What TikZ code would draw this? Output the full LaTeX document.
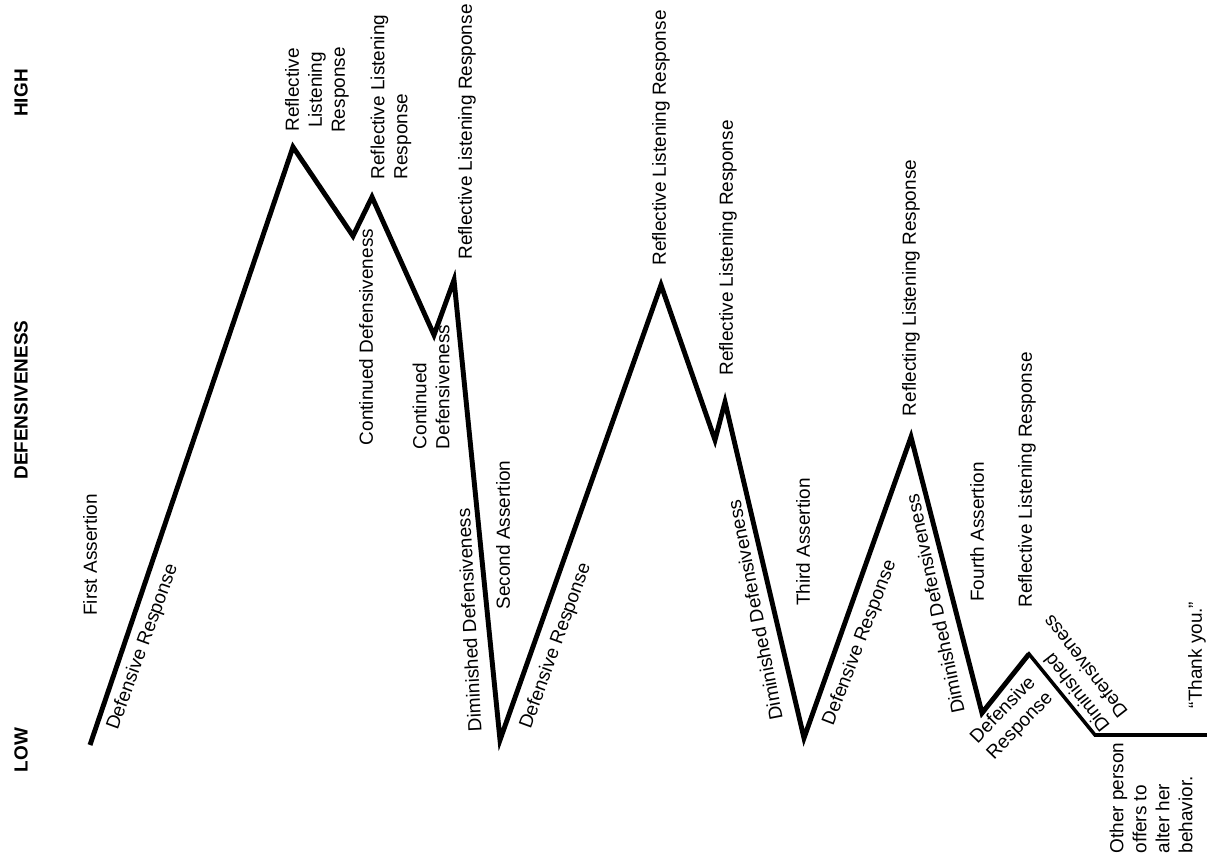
\documentclass[tikz,border=0pt]{standalone}
\usepackage{fontspec}
\setmainfont{Liberation Sans}
\usepackage{tikz}
\usetikzlibrary{calc}

\tikzset{
  curve/.style={line width=2.8pt, line join=miter},
  tail/.style={line width=2pt, line join=miter},
  lbl/.style={font=\fontsize{10.8}{13.1}\selectfont, inner sep=0pt, rotate=90},
  axislbl/.style={font=\fontsize{10.8}{12}\selectfont\bfseries, inner sep=0pt, rotate=90},
}

\begin{document}
\begin{tikzpicture}[x=0.02cm, y=-0.02cm]
  \useasboundingbox (0,0) rectangle (1207,861);

  % Turning points of the defensiveness curve
  \foreach \name/\px/\py in {v0/90/745,v1/293/147,v2/353/236,v3/372/197,v4/434/335,
      v5/454/280,v6/500/740,v7/661/285,v8/715/440,v9/725/402,v10/804/738,
      v11/911/437,v12/982/713,v13/1029/654,v14/1095/735,v15/1207/735} {
    \coordinate (\name) at (\px,\py);
  }

  % Curve
  \draw[curve] (v0) -- (v1) -- (v2) -- (v3) -- (v4) -- (v5) -- (v6) -- (v7)
    -- (v8) -- (v9) -- (v10) -- (v11) -- (v12) -- (v13);
  \draw[tail] (v12) -- (v13) -- (v14) -- (v15);

  % Axis
  \node[axislbl] (high) at (21,93) {HIGH};
  \node[axislbl] (axis) at (21,400) {DEFENSIVENESS};
  \node[axislbl] (low) at (21,750) {LOW};

  % Single-line vertical labels
  \foreach \name/\px/\py/\txt in {a1/90/555/First Assertion,
      cd1/366/337/Continued Defensiveness,
      rl3/467/132/Reflective Listening Response,
      a2/503/535/Second Assertion,
      rl4/661/138/Reflective Listening Response,
      rl5/728/248/Reflective Listening Response,
      a3/803/542/Third Assertion,
      rl6/911/288/Reflecting Listening Response,
      a4/977/532/Fourth Assertion,
      rl7/1027/480/Reflective Listening Response} {
    \node[lbl] (\name) at (\px,\py) {\txt};
  }

  % Labels along the slopes
  \node[lbl, rotate=-20] (dr1) at (143,647) {Defensive Response};
  \node[lbl, rotate=-20] (dr2) at (556,646) {Defensive Response};
  \node[lbl, rotate=-21] (dr3) at (860,643) {Defensive Response};
  \node[lbl, rotate=3] (dd1) at (469,620) {Diminished Defensiveness};
  \node[lbl, rotate=11] (dd2) at (755,610) {Diminished Defensiveness};
  \node[lbl, rotate=12] (dd3) at (935,604) {Diminished Defensiveness};
  \node[lbl, rotate=-44, align=left] (dr4) at (1012,718) {Defensive\\Response};
  \node[lbl, rotate=38, align=left] (dd4) at (1076,674) {Diminished\\Defensiveness};

  % Multi-line labels
  \node[lbl, align=center] (rl1) at (317,90) {Reflective\\Listening\\Response};
  \node[lbl, align=left] (rl2) at (391,97) {Reflective Listening\\Response};
  \node[lbl, align=left] (cd2) at (431,387) {Continued\\Defensiveness};
  \node[lbl, align=left] (other) at (1151,798) {Other person\\offers to\\alter her\\behavior.};
  \node[lbl] (thanks) at (1197,655) {“Thank you.”};

\end{tikzpicture}
\end{document}
